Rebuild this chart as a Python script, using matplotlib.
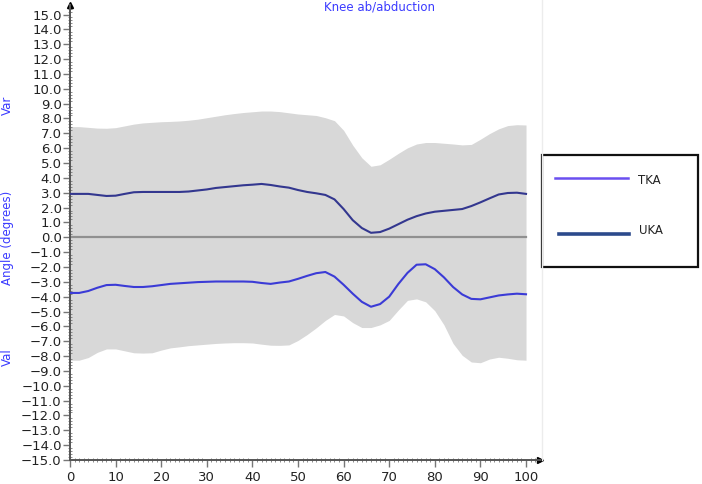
import numpy as np
import matplotlib
matplotlib.use("Agg")
import matplotlib.pyplot as plt
from matplotlib.lines import Line2D
from matplotlib.patches import Rectangle
from matplotlib.ticker import MultipleLocator, FuncFormatter

# % of gait cycle
pct = np.arange(0, 101, 2)

uka = [2.92, 2.92, 2.92, 2.85, 2.78, 2.80, 2.92, 3.03, 3.05, 3.05,
       3.05, 3.05, 3.05, 3.08, 3.15, 3.22, 3.32, 3.38, 3.44, 3.50,
       3.54, 3.59, 3.52, 3.42, 3.34, 3.18, 3.05, 2.96, 2.85, 2.55,
       1.90, 1.15, 0.62, 0.30, 0.35, 0.58, 0.88, 1.18, 1.42, 1.60,
       1.72, 1.78, 1.84, 1.90, 2.10, 2.35, 2.62, 2.88, 2.98, 3.00,
       2.92]

tka = [-3.75, -3.75, -3.62, -3.40, -3.22, -3.20, -3.28, -3.35, -3.35, -3.30,
       -3.22, -3.14, -3.10, -3.06, -3.02, -3.00, -2.98, -2.98, -2.98, -2.98,
       -3.00, -3.08, -3.14, -3.05, -2.98, -2.80, -2.60, -2.42, -2.34, -2.65,
       -3.20, -3.80, -4.35, -4.68, -4.50, -4.00, -3.15, -2.40, -1.85, -1.82,
       -2.15, -2.70, -3.35, -3.85, -4.15, -4.18, -4.05, -3.92, -3.85, -3.80,
       -3.84]

band_hi = [7.45, 7.45, 7.40, 7.35, 7.34, 7.38, 7.50, 7.62, 7.70, 7.74,
           7.78, 7.80, 7.83, 7.88, 7.95, 8.05, 8.15, 8.25, 8.33, 8.40,
           8.45, 8.50, 8.50, 8.46, 8.38, 8.30, 8.25, 8.20, 8.05, 7.85,
           7.20, 6.20, 5.35, 4.78, 4.88, 5.25, 5.65, 6.02, 6.28, 6.38,
           6.38, 6.33, 6.28, 6.22, 6.25, 6.60, 6.98, 7.30, 7.52, 7.58,
           7.56]

band_lo = [-8.28, -8.28, -8.10, -7.75, -7.52, -7.52, -7.65, -7.78, -7.80, -7.78,
           -7.60, -7.45, -7.38, -7.30, -7.25, -7.20, -7.15, -7.12, -7.10, -7.10,
           -7.12, -7.20, -7.27, -7.28, -7.25, -6.95, -6.55, -6.10, -5.60, -5.20,
           -5.30, -5.75, -6.08, -6.08, -5.90, -5.60, -4.90, -4.25, -4.15, -4.35,
           -4.95, -5.90, -7.15, -7.95, -8.40, -8.45, -8.20, -8.08, -8.15, -8.25,
           -8.28]

COR_TKA = "#3b3bd6"
COR_UKA = "#33378f"
COR_TKA_LEG = "#6a4ff0"
COR_UKA_LEG = "#2c4a8c"
COR_AZUL = "#3a3aff"

fig = plt.figure(figsize=(7.02, 4.84), dpi=100)
ax = fig.add_axes([70 / 702, 24 / 484, 469.7 / 702, 455 / 484])
ax.set_xlim(0, 103)
ax.set_ylim(-15, 15.64)

ax.fill_between(pct, band_lo, band_hi, color="#d8d8d8", linewidth=0, zorder=1)
ax.plot([0, 100], [0, 0], color="#909090", linewidth=1.6, zorder=2)
ax.plot(pct, uka, color=COR_UKA, linewidth=1.5, zorder=3)
ax.plot(pct, tka, color=COR_TKA, linewidth=1.5, zorder=3)

# eixos tipo "régua" com setas
for lado in ("top", "right"):
    ax.spines[lado].set_visible(False)
for lado in ("left", "bottom"):
    ax.spines[lado].set_color("#555555")
    ax.spines[lado].set_linewidth(1.4)
ax.plot(0, 1, marker="^", color="black", markersize=5, transform=ax.transAxes, clip_on=False)
ax.plot(1, 0, marker=">", color="black", markersize=5, transform=ax.transAxes, clip_on=False)

ax.yaxis.set_major_locator(MultipleLocator(1))
ax.yaxis.set_minor_locator(MultipleLocator(0.2))
ax.set_yticks(np.arange(-15, 16, 1))
ax.yaxis.set_major_formatter(FuncFormatter(lambda v, p: f"{v:.1f}".replace("-", "\u2212")))
ax.set_xticks(np.arange(0, 101, 10))
ax.xaxis.set_minor_locator(MultipleLocator(1))
ax.tick_params(which="major", direction="out", length=5, width=1, color="#777777",
               labelsize=9.5, labelcolor="#222222", pad=1)
ax.tick_params(which="minor", direction="inout", length=3, width=0.6, color="#777777")
ax.tick_params(axis="x", which="major", pad=3)

# rótulos do eixo y e título
fig.text(7.5 / 702, 1 - 105 / 484, "Var", rotation=90, ha="center", va="center",
         color=COR_AZUL, fontsize=8.5)
fig.text(7.5 / 702, 1 - 238 / 484, "Angle (degrees)", rotation=90, ha="center", va="center",
         color=COR_AZUL, fontsize=8.5)
fig.text(7.5 / 702, 1 - 357 / 484, "Val", rotation=90, ha="center", va="center",
         color=COR_AZUL, fontsize=8.5)
fig.text(380 / 702, 1 - 7 / 484, "Knee ab/abduction", ha="center", va="center",
         color=COR_AZUL, fontsize=8.5)

# linha clarinha à direita do gráfico
fig.add_artist(Line2D([541.7 / 702, 541.7 / 702], [24 / 484, 1], color="#ececec", linewidth=1))

# legenda desenhada à mão
fig.add_artist(Rectangle((541.7 / 702, 1 - 266.7 / 484), 156.6 / 702, 111.7 / 484,
                         transform=fig.transFigure, facecolor="white",
                         edgecolor="#111111", linewidth=1.6))
fig.add_artist(Line2D([555 / 702, 628 / 702], [1 - 177.7 / 484] * 2,
                      color=COR_TKA_LEG, linewidth=1.8))
fig.add_artist(Line2D([559 / 702, 629 / 702], [1 - 234.3 / 484] * 2,
                      color=COR_UKA_LEG, linewidth=2.6))
fig.text(638 / 702, 1 - 180.7 / 484, "TKA", ha="left", va="center", fontsize=8.5, color="#222222")
fig.text(639 / 702, 1 - 230.7 / 484, "UKA", ha="left", va="center", fontsize=8.5, color="#222222")

fig.savefig("out.png", dpi=100, facecolor="white")
